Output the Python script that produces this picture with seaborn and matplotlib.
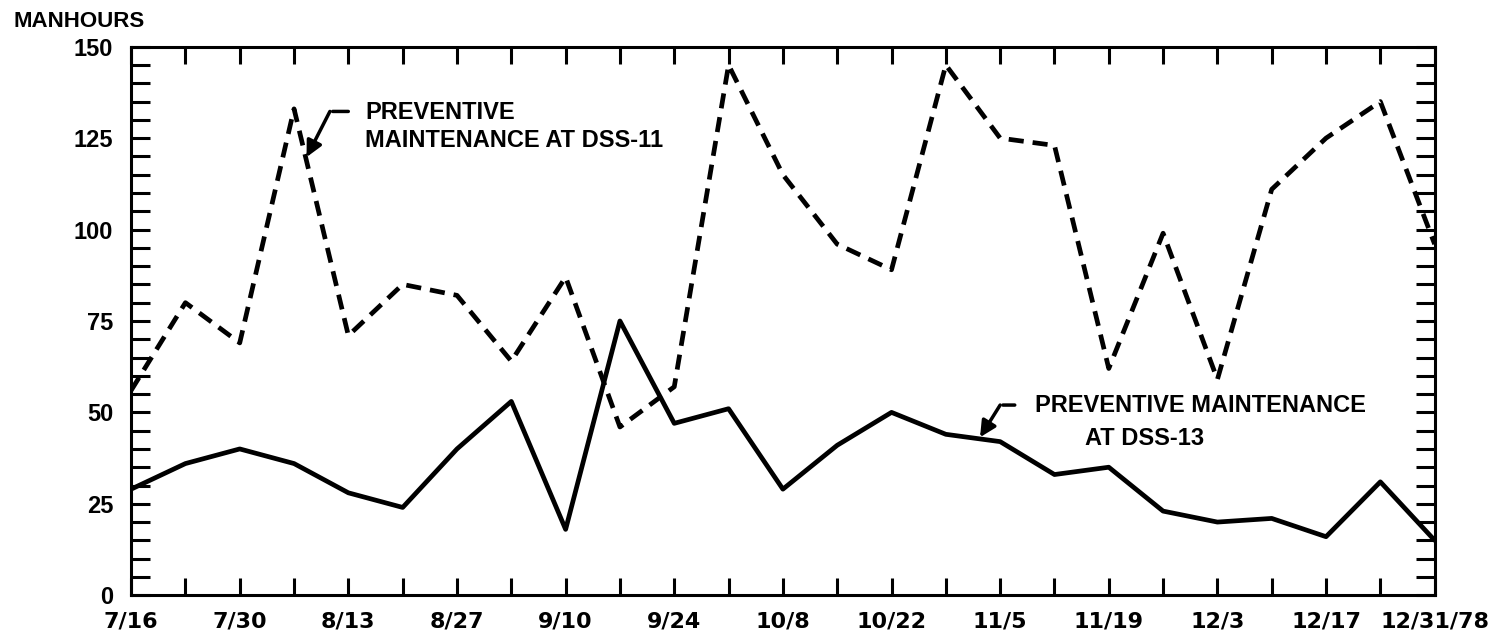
import matplotlib
matplotlib.use('Agg')
import matplotlib.pyplot as plt
import seaborn as sns
import pandas as pd
from matplotlib.ticker import MultipleLocator

# weekly values, 7/16/78 .. 12/31/78
weeks = list(range(25))
dss11_hours = [56, 80, 69, 133, 71, 85, 82, 64, 87, 46, 57, 145, 115,
               96, 89, 145, 125, 123, 62, 99, 59, 111, 125, 135, 96]
dss13_hours = [29, 36, 40, 36, 28, 24, 40, 53, 18, 75, 47, 51, 29,
               41, 50, 44, 42, 33, 35, 23, 20, 21, 16, 31, 15]
tick_labels = ['7/16', '7/30', '8/13', '8/27', '9/10', '9/24', '10/8',
               '10/22', '11/5', '11/19', '12/3', '12/17', '12/31/78']

df = pd.DataFrame({'week': weeks, 'DSS-11': dss11_hours, 'DSS-13': dss13_hours})

sns.set_theme(style='white')
plt.rcParams['font.family'] = ['Liberation Sans', 'DejaVu Sans']
plt.rcParams['font.weight'] = 'bold'
for key in ['text.color', 'xtick.color', 'ytick.color', 'axes.labelcolor']:
    plt.rcParams[key] = 'black'

fig, ax = plt.subplots(figsize=(15.07, 6.4), dpi=100)
fig.subplots_adjust(left=0.087, right=0.952, top=0.927, bottom=0.07)

sns.lineplot(data=df, x='week', y='DSS-11', ax=ax, color='black', lw=3.4,
             dashes=False, linestyle=(0, (3.2, 1.9)))
sns.lineplot(data=df, x='week', y='DSS-13', ax=ax, color='black', lw=3.4)

ax.set_xlim(0, 24)
ax.set_ylim(0, 150)
ax.set_xlabel('')
ax.set_ylabel('')

ax.xaxis.set_minor_locator(MultipleLocator(1))
ax.yaxis.set_major_locator(MultipleLocator(25))
ax.yaxis.set_minor_locator(MultipleLocator(5))
ax.set_xticks(range(0, 25, 2))
ax.set_xticklabels(tick_labels)

ax.tick_params(axis='x', which='both', direction='in', length=12, width=2.2,
               top=True, bottom=True, pad=12, colors='black')
ax.tick_params(axis='y', which='both', direction='in', length=14, width=2.2,
               left=True, right=True, pad=13, labelsize=17, colors='black')
for lab in ax.get_xticklabels():
    lab.set_fontfamily('DejaVu Sans')
    lab.set_fontsize(16)
    lab.set_fontweight('bold')
for lab in ax.get_yticklabels():
    lab.set_fontweight('bold')

for sp in ax.spines.values():
    sp.set_visible(True)
    sp.set_color('black')
    sp.set_linewidth(2.2)

fig.text(0.009, 0.966, 'MANHOURS', fontsize=16, fontweight='bold',
         ha='left', va='center', color='black')

# DSS-11 callout
ax.annotate('', xy=(3.66, 132.3), xytext=(4.05, 132.3),
            arrowprops=dict(arrowstyle='-', lw=2.5, color='black'))
ax.annotate('', xy=(3.23, 119.8), xytext=(3.66, 132.3),
            arrowprops=dict(arrowstyle='-|>', lw=2.5, color='black',
                            mutation_scale=24, shrinkA=0, shrinkB=0))
ax.text(4.31, 132.1, 'PREVENTIVE', fontsize=17, fontweight='bold',
        ha='left', va='center', color='black')
ax.text(4.31, 124.4, 'MAINTENANCE AT DSS-11', fontsize=17, fontweight='bold',
        ha='left', va='center', color='black')

# DSS-13 callout
ax.annotate('', xy=(16.0, 52.0), xytext=(16.32, 52.0),
            arrowprops=dict(arrowstyle='-', lw=2.5, color='black'))
ax.annotate('', xy=(15.63, 43.2), xytext=(16.0, 52.0),
            arrowprops=dict(arrowstyle='-|>', lw=2.5, color='black',
                            mutation_scale=24, shrinkA=0, shrinkB=0))
ax.text(16.65, 52.0, 'PREVENTIVE MAINTENANCE', fontsize=17, fontweight='bold',
        ha='left', va='center', color='black')
ax.text(17.57, 42.8, 'AT DSS-13', fontsize=17, fontweight='bold',
        ha='left', va='center', color='black')

fig.savefig('out.png', dpi=100, facecolor='white')
plt.close(fig)
